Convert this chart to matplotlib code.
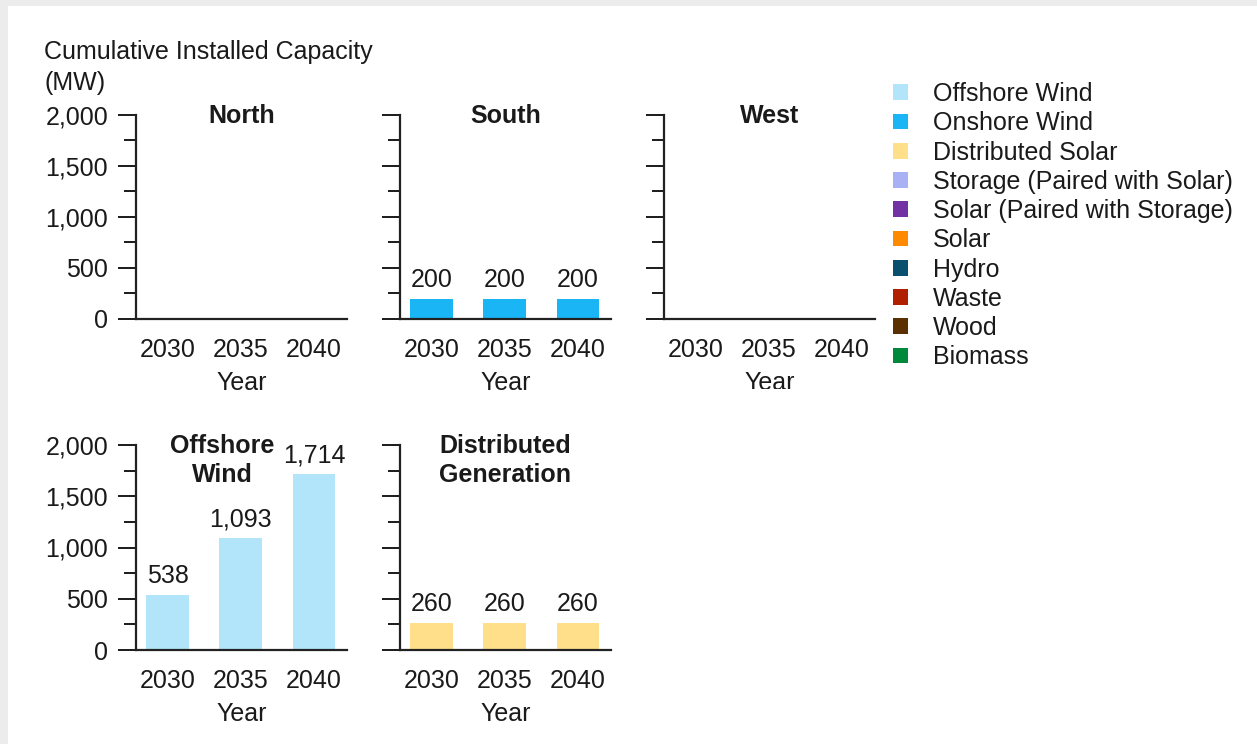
import numpy as np
import matplotlib.pyplot as plt
from matplotlib.patches import Patch, Rectangle

plt.rcParams['font.family'] = ['Liberation Sans', 'DejaVu Sans']

years = ["2030", "2035", "2040"]
north_onshore = [0, 0, 0]
south_onshore = [200, 200, 200]
west_onshore = [0, 0, 0]
offshore_wind = [538, 1093, 1714]
distributed_solar = [260, 260, 260]

legend_labels = ["Offshore Wind", "Onshore Wind", "Distributed Solar",
                 "Storage (Paired with Solar)", "Solar (Paired with Storage)",
                 "Solar", "Hydro", "Waste", "Wood", "Biomass"]
legend_colors = ["#b3e5fa", "#1ab5f5", "#ffdf8a", "#a9b1f5", "#7232a3",
                 "#ff8a00", "#08506e", "#b02000", "#5a3000", "#00893b"]

W, H = 1257, 744
txt = "#1a1a1a"
fs = 18


def px_axes(fig, x0, x1, y0, y1):
    # pixel box (top-left origin) -> figure axes
    return fig.add_axes([x0 / W, (H - y1) / H, (x1 - x0) / W, (y1 - y0) / H])


def panel(ax, values, color, title, title_x=0.5, labels=True, show_ylabels=True):
    x = np.arange(len(years))
    if labels:
        bars = ax.bar(x, values, width=0.585, color=color)
        for b, v in zip(bars, values):
            ax.annotate(f"{v:,}", (b.get_x() + b.get_width() / 2, v),
                        xytext=(0, 5), textcoords="offset points",
                        ha="center", va="bottom", fontsize=fs, color=txt)
    ax.set_xlim(-0.43, 2.45)
    ax.set_ylim(0, 2000)
    ax.set_xticks(x)
    ax.set_xticklabels(years)
    ax.set_yticks([0, 500, 1000, 1500, 2000])
    ax.set_yticks(np.arange(250, 2000, 500), minor=True)
    if show_ylabels:
        ax.set_yticklabels(["0", "500", "1,000", "1,500", "2,000"])
    else:
        ax.set_yticklabels([])
    ax.tick_params(axis="x", length=0, pad=14, labelsize=fs, colors=txt)
    ax.tick_params(axis="y", which="major", length=13, width=1.4, pad=7,
                   labelsize=fs, colors=txt)
    ax.tick_params(axis="y", which="minor", length=8.5, width=1.4, colors=txt)
    for s in ["top", "right"]:
        ax.spines[s].set_visible(False)
    for s in ["left", "bottom"]:
        ax.spines[s].set_linewidth(1.6)
        ax.spines[s].set_color("#222222")
    ax.set_xlabel("Year", fontsize=fs, color=txt, labelpad=6)
    ax.annotate(title, (title_x, 1), xycoords="axes fraction",
                xytext=(0, 8), textcoords="offset points",
                ha="center", va="top", fontsize=fs, fontweight="bold",
                color=txt, linespacing=1.25)
    ax.patch.set_alpha(0)


fig = plt.figure(figsize=(W / 100, H / 100), dpi=100)
fig.patch.set_facecolor("#ececec")
fig.patches.append(Rectangle((8 / W, 0), 1, (H - 6) / H, transform=fig.transFigure,
                             facecolor="white", edgecolor="none", zorder=-5))

ax_n = px_axes(fig, 136, 347, 115, 319)
ax_s = px_axes(fig, 400, 611, 115, 319)
ax_w = px_axes(fig, 664, 875, 115, 319)
ax_o = px_axes(fig, 136, 347, 445, 650)
ax_d = px_axes(fig, 400, 611, 445, 650)

panel(ax_n, north_onshore, legend_colors[1], "North", labels=False)
panel(ax_s, south_onshore, legend_colors[1], "South", show_ylabels=False)
panel(ax_w, west_onshore, legend_colors[1], "West", labels=False, show_ylabels=False)
panel(ax_o, offshore_wind, legend_colors[0], "Offshore\nWind", title_x=0.41)
panel(ax_d, distributed_solar, legend_colors[2], "Distributed\nGeneration",
      show_ylabels=False)

fig.text(44 / W, 1 - 40 / H, "Cumulative Installed Capacity\n(MW)", fontsize=fs,
         color=txt, ha="left", va="top", linespacing=1.35)

# West panel is clipped at the bottom in the source
fig.patches.append(Rectangle((640 / W, (H - 402) / H), 250 / W, 13 / H,
                             transform=fig.transFigure, facecolor="white",
                             edgecolor="none", zorder=10))

handles = [Patch(facecolor=c, edgecolor="none") for c in legend_colors]
fig.legend(handles, legend_labels, loc="upper left",
           bbox_to_anchor=(893 / W, 1 - 82 / H), frameon=False, fontsize=fs,
           handlelength=0.6, handleheight=0.6, handletextpad=1.0,
           labelspacing=0.21, borderaxespad=0, borderpad=0, labelcolor=txt)

fig.savefig("out.png", dpi=100)
